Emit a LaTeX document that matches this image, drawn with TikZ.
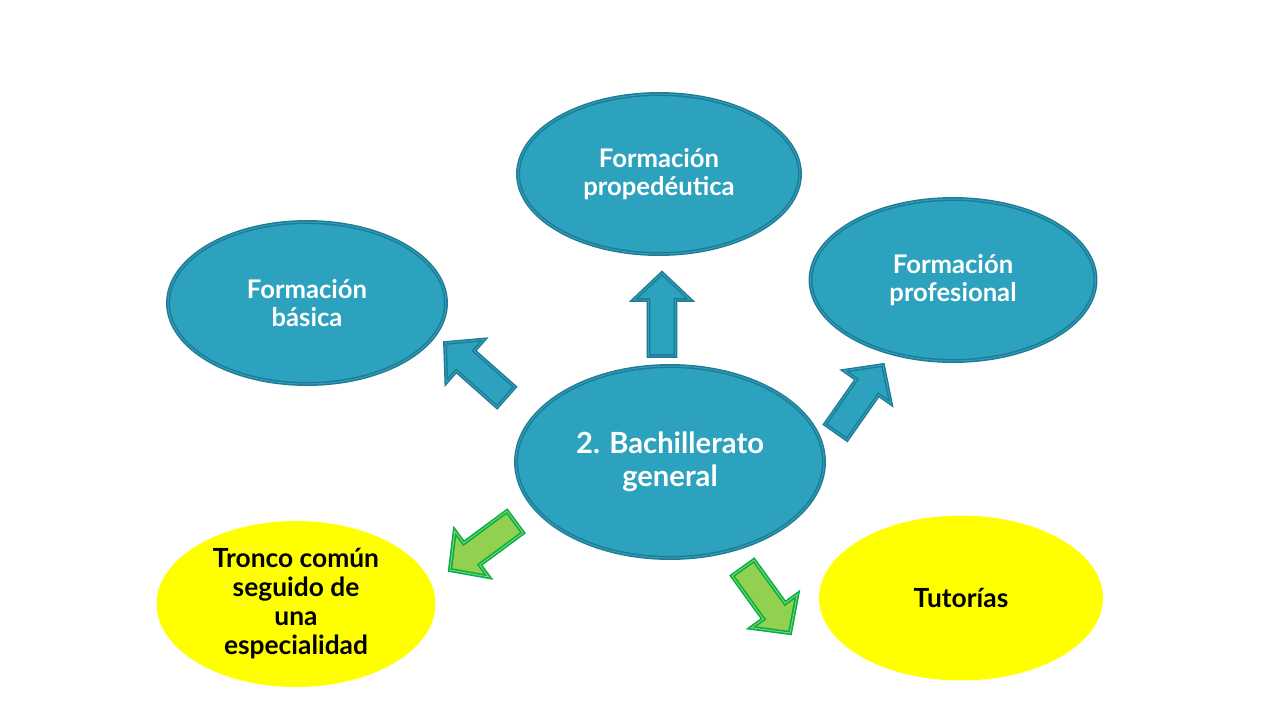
\documentclass[tikz,border=0pt]{standalone}
\usepackage{fontspec}
\setmainfont{Lato}
\usetikzlibrary{shapes.geometric,calc}

\definecolor{tealfill}{HTML}{2DA2BF}
\definecolor{tealline}{HTML}{1F7A94}
\definecolor{leaffill}{HTML}{92D050}
\definecolor{leafline}{HTML}{00B050}
\definecolor{sun}{HTML}{FFFF00}

\newcommand{\fatarrow}[3][]{%
  \path ($(#3)!0.54cm!(#2)$) coordinate (neck);
  \draw[#1] ($(#2)!0.27cm!90:(#3)$) -- ($(neck)!0.27cm!90:(#3)$)
    -- ($(neck)!0.57cm!90:(#3)$) -- (#3) -- ($(neck)!0.57cm!-90:(#3)$)
    -- ($(neck)!0.27cm!-90:(#3)$) -- ($(#2)!0.27cm!-90:(#3)$) -- cycle;}

\begin{document}
\begin{tikzpicture}[x=0.02cm,y=-0.02cm,
  topic/.style={ellipse,inner sep=0pt,align=center,fill=tealfill,draw=tealline,
    line width=0.85pt,double=tealfill,double distance=0.55pt,text=white,
    font=\bfseries\fontsize{14.6}{16}\selectfont},
  note/.style={ellipse,inner sep=0pt,align=center,fill=sun,text=black,
    font=\bfseries\fontsize{15}{16.5}\selectfont},
  bluearrow/.style={fill=tealfill,draw=tealline,line width=0.8pt,double=tealfill,
    double distance=0.55pt,line join=miter},
  greenarrow/.style={fill=leaffill,draw=leafline,line width=0.9pt,double=leaffill,
    double distance=0.55pt,line join=miter}]
  \useasboundingbox[fill=white] (0,0) rectangle (1280,720);
  \node[topic,minimum width=6.16cm,minimum height=3.84cm,font=\bfseries\fontsize{16.6}{18.8}\selectfont] (BG) at (670,462) {2. Bachillerato\\general};
  \node[topic,minimum width=5.64cm,minimum height=3.2cm] (FPD) at (659,174) {Formación\\propedéutica};
  \node[topic,minimum width=5.56cm,minimum height=3.24cm] (FB) at (307,303) {Formación\\básica};
  \node[topic,minimum width=5.7cm,minimum height=3.24cm] (FPR) at (953,280) {Formación\\profesional};
  \node[note,minimum width=5.58cm,minimum height=3.32cm] (TC) at (296,604) {Tronco común\\seguido de\\una\\especialidad};
  \node[note,minimum width=5.68cm,minimum height=3.3cm] (TU) at (961,598) {Tutorías};
  \coordinate (FBt) at (506,397); \coordinate (FBh) at (445,343);
  \coordinate (FPDt) at (662,356); \coordinate (FPDh) at (662,273);
  \coordinate (FPRt) at (836,432); \coordinate (FPRh) at (883,365);
  \coordinate (TCt) at (515,522); \coordinate (TCh) at (450,570);
  \coordinate (TUt) at (743,568); \coordinate (TUh) at (790,633);
  \fatarrow[bluearrow]{FBt}{FBh}
  \fatarrow[bluearrow]{FPDt}{FPDh}
  \fatarrow[bluearrow]{FPRt}{FPRh}
  \fatarrow[greenarrow]{TCt}{TCh}
  \fatarrow[greenarrow]{TUt}{TUh}
\end{tikzpicture}
\end{document}
